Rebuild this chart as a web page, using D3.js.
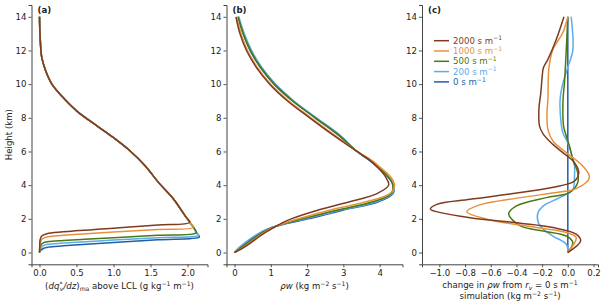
<!DOCTYPE html>
<html>
<head>
<meta charset="utf-8">
<script src="https://cdn.jsdelivr.net/npm/d3@7"></script>
<style>
  body { margin: 0; background: #fff; }
  svg { font-family: "DejaVu Sans", sans-serif; }
</style>
</head>
<body>
<svg id="chart" width="606" height="306"></svg>
<script>
// ---- data ----
var resistances = [0, 200, 500, 1000, 2000];          // s m-1, drawing order
var legendOrder = [2000, 1000, 500, 200, 0];

// (a) moist-adiabatic dq*/dz above LCL, shared profile [x, height]
var moistProfile = [[2.16,0.92],[2.15,1.02],[2.12,1.18],[2.08,1.5],[2.03,1.8],[1.98,2.1],
	[1.81,3.18],[1.61,4.15],[1.43,5.14],[1.225,6.03],[1.0,6.82],[0.78,7.51],[0.505,8.4],
	[0.30,9.29],[0.17,9.98],[0.077,10.87],[0.03,11.6],[0.012,12.5],[0.004,13.3],[0.0,14.0]];
var lclHeight = { 0: 0.92, 200: 1.02, 500: 1.18, 1000: 1.5, 2000: 1.8 };
var belowLcl = {
	2000: [[0,0],[0.003,0.4],[0.008,0.75],[0.03,0.98],[0.1,1.12],[0.32,1.23],[1.0,1.44],[1.6,1.63]],
	1000: [[0,0],[0.004,0.3],[0.012,0.6],[0.04,0.82],[0.12,0.94],[0.32,1.02],[1.0,1.22],[1.6,1.37]],
	500:  [[0,0],[0.006,0.2],[0.015,0.4],[0.05,0.57],[0.12,0.65],[0.32,0.72],[1.0,0.88],[1.6,1.02]],
	200:  [[0,0],[0.008,0.18],[0.04,0.38],[0.12,0.49],[0.32,0.56],[1.0,0.74],[1.6,0.88]],
	0:    [[0,0],[0.012,0.1],[0.05,0.24],[0.12,0.32],[0.32,0.4],[1.0,0.6],[1.6,0.76]]
};

// (b) rho*w on a common height grid
var heightsB = [0,0.25,0.5,1,1.25,1.5,1.75,2,2.5,3,3.5,4,4.5,5,5.5,6,7,8,9,10,11,12,13,14];
var rhoW = {
	2000: [0,0.22,0.40,0.72,0.90,1.10,1.30,1.56,2.27,3.15,3.93,4.25,4.16,3.97,3.72,3.38,2.70,2.07,1.46,0.97,0.60,0.33,0.15,0.04],
	1000: [0,0.20,0.37,0.69,0.87,1.08,1.38,1.76,2.59,3.60,4.28,4.41,4.30,4.05,3.76,3.38,2.74,2.11,1.50,1.00,0.63,0.36,0.18,0.06],
	500:  [0,0.16,0.32,0.64,0.82,1.06,1.42,1.86,2.78,3.79,4.32,4.36,4.24,4.00,3.72,3.38,2.86,2.23,1.61,1.10,0.72,0.44,0.24,0.10],
	200:  [0,0.10,0.24,0.56,0.76,1.03,1.45,1.95,2.87,3.88,4.35,4.39,4.24,4.00,3.72,3.38,2.89,2.26,1.64,1.13,0.75,0.47,0.27,0.12],
	0:    [0,0.13,0.28,0.60,0.79,1.07,1.50,2.03,2.96,3.95,4.37,4.38,4.22,3.98,3.70,3.37,2.85,2.22,1.60,1.09,0.71,0.43,0.24,0.10]
};

// (c) change in rho*w relative to r_v = 0, [x, height]
var deltaRhoW = {
	2000: [[0,0.0],[0.10,0.69],[0.065,1.09],[-0.116,1.48],[-0.37,1.74],[-0.76,2.07],[-0.99,2.37],[-1.07,2.57],
		[-1.02,2.86],[-0.76,3.16],[-0.37,3.56],[-0.064,3.95],[0.052,4.25],[0.085,4.74],[0.052,5.34],
		[-0.039,5.93],[-0.116,6.42],[-0.19,7.02],[-0.22,7.51],[-0.225,8.5],[-0.21,9.5],[-0.2,10.4],
		[-0.19,10.97],[-0.155,11.47],[-0.09,12.65],[-0.03,14.0]],
	1000: [[0,0.0],[0.065,0.89],[-0.012,1.19],[-0.245,1.48],[-0.63,1.98],[-0.786,2.42],[-0.71,2.77],
		[-0.37,3.26],[-0.064,3.59],[0.065,3.79],[0.168,4.45],[0.116,5.14],[-0.012,5.93],[-0.116,6.62],
		[-0.155,7.31],[-0.162,8.3],[-0.155,9.09],[-0.147,10.97],[-0.116,12.06],[-0.039,13.05],[0.0,14.0]],
	500:  [[0,0.0],[0.039,0.59],[-0.012,0.98],[-0.19,1.28],[-0.37,1.58],[-0.46,2.3],[-0.40,2.77],
		[-0.167,3.26],[0.013,3.56],[0.077,4.15],[0.077,4.74],[0.039,5.53],[0.013,6.32],[-0.012,6.92],
		[-0.033,7.51],[-0.037,9.09],[-0.026,10.08],[-0.012,12.06],[0.0,14.0]],
	200:  [[0,0.0],[-0.012,0.49],[-0.116,0.98],[-0.19,1.38],[-0.23,1.78],[-0.232,2.37],[-0.19,2.77],
		[-0.064,3.26],[0.039,3.75],[0.052,4.54],[0.052,5.14],[0.026,5.93],[0.0,6.52],[-0.039,7.12],
		[-0.055,7.91],[-0.06,9.09],[-0.04,10.0],[0.0,11.0],[0.039,12.0],[0.026,14.0]],
	0:    [[0,0.0],[0,14.0]]
};

var colour = { 2000: "#7d3b22", 1000: "#e8913d", 500: "#4b7912", 200: "#5cacea", 0: "#1f5ea8" };

var yTicks = [0, 2, 4, 6, 8, 10, 12, 14];
var ticksA = [0, 0.5, 1.0, 1.5, 2.0];
var ticksB = [0, 1, 2, 3, 4];
var ticksC = [-1.0, -0.8, -0.6, -0.4, -0.2, 0.0, 0.2];

// ---- layout ----
var svg = d3.select("#chart");
var plotTop = 5, plotBottom = 264.3, panelW = 176;
var fs = 8.6;

var y = d3.scaleLinear().domain([-0.7, 14.7]).range([plotBottom, plotTop]);

var panels = [
	{ key: "a", left: 31.5, domain: [-0.108, 2.27], ticks: ticksA, fmt: d3.format(".1f") },
	{ key: "b", left: 226.5, domain: [-0.22, 4.63], ticks: ticksB, fmt: d3.format("d") },
	{ key: "c", left: 422, domain: [-1.135, 0.235], ticks: ticksC, fmt: function (d) { return d3.format(".1f")(d).replace("-", "\u2212"); } }
];

function richText(sel, parts) {
	var cur = 0;
	parts.forEach(function (p) {
		var target = p.sup ? -3.4 : (p.sub ? 2.2 : 0);
		var ts = sel.append("tspan").attr("dy", target - cur).text(p.t);
		cur = target;
		if (p.sup || p.sub) ts.attr("font-size", 6.1);
		if (p.i) ts.attr("font-style", "italic");
		if (p.dx) ts.attr("dx", p.dx);
	});
}

var line = d3.line().curve(d3.curveCatmullRom.alpha(0.5));

panels.forEach(function (p) {
	var x = d3.scaleLinear().domain(p.domain).range([p.left, p.left + panelW]);
	p.x = x;
	var g = svg.append("g");

	var yAxis = g.append("g")
		.attr("transform", "translate(" + p.left + ",0)")
		.call(d3.axisLeft(y).tickValues(yTicks).tickSizeOuter(0).tickSize(3).tickPadding(2));
	var xAxis = g.append("g")
		.attr("transform", "translate(0," + plotBottom + ")")
		.call(d3.axisBottom(x).tickValues(p.ticks).tickFormat(p.fmt).tickSizeOuter(0).tickSize(3).tickPadding(2.5));

	[yAxis, xAxis].forEach(function (a) {
		a.select(".domain").attr("stroke", "#444").attr("stroke-width", 1);
		a.selectAll(".tick line").attr("stroke", "#444").attr("stroke-width", 0.9);
		a.selectAll(".tick text").attr("font-size", fs).attr("fill", "#222")
			.attr("font-family", "DejaVu Sans");
	});

	g.append("text")
		.attr("x", p.left + 6)
		.attr("y", 13)
		.attr("font-size", fs)
		.attr("font-weight", "bold")
		.attr("fill", "#222")
		.text("(" + p.key + ")");
});

// ---- panel (a) ----
var pa = panels[0];
resistances.forEach(function (r) {
	var pts = belowLcl[r].concat(moistProfile.filter(function (d) { return d[1] >= lclHeight[r]; }));
	svg.append("path")
		.attr("d", line.x(function (d) { return pa.x(d[0]); }).y(function (d) { return y(d[1]); })(pts))
		.attr("fill", "none")
		.attr("stroke", colour[r])
		.attr("stroke-width", 1.5);
});

// ---- panel (b) ----
var pb = panels[1];
resistances.forEach(function (r) {
	var pts = heightsB.map(function (h, i) { return [rhoW[r][i], h]; });
	svg.append("path")
		.attr("d", line.x(function (d) { return pb.x(d[0]); }).y(function (d) { return y(d[1]); })(pts))
		.attr("fill", "none")
		.attr("stroke", colour[r])
		.attr("stroke-width", 1.5);
});

// ---- panel (c) ----
var pc = panels[2];
resistances.forEach(function (r) {
	svg.append("path")
		.attr("d", line.x(function (d) { return pc.x(d[0]); }).y(function (d) { return y(d[1]); })(deltaRhoW[r]))
		.attr("fill", "none")
		.attr("stroke", colour[r])
		.attr("stroke-width", 1.5);
});

// legend
var legend = svg.append("g").attr("transform", "translate(434,40.7)");
legendOrder.forEach(function (r, i) {
	var row = legend.append("g").attr("transform", "translate(0," + (i * 10.3) + ")");
	row.append("line").attr("x1", 0).attr("x2", 15).attr("y1", 0).attr("y2", 0)
		.attr("stroke", colour[r]).attr("stroke-width", 1.5);
	var t = row.append("text").attr("x", 19).attr("y", 3).attr("font-size", fs).attr("fill", colour[r]);
	richText(t, [{ t: r + " s m" }, { t: "\u22121", sup: true }]);
});

// ---- axis labels ----
svg.append("text")
	.attr("transform", "translate(11.5," + ((plotTop + plotBottom) / 2) + ") rotate(-90)")
	.attr("text-anchor", "middle")
	.attr("font-size", fs)
	.attr("fill", "#222")
	.text("Height (km)");

var la = svg.append("text")
	.attr("x", pa.left + panelW / 2).attr("y", 289)
	.attr("text-anchor", "middle").attr("font-size", fs).attr("fill", "#222");
richText(la, [{ t: "(" }, { t: "dq", i: true }, { t: "*", sup: true }, { t: "v", sub: true, i: true, dx: -2.6 },
	{ t: "/dz", i: true }, { t: ")" }, { t: "ma", sub: true }, { t: " above LCL (g kg" },
	{ t: "\u22121", sup: true }, { t: " m" }, { t: "\u22121", sup: true }, { t: ")" }]);

var lb = svg.append("text")
	.attr("x", pb.left + panelW / 2).attr("y", 289)
	.attr("text-anchor", "middle").attr("font-size", fs).attr("fill", "#222");
richText(lb, [{ t: "\u03c1w", i: true }, { t: " (kg m" }, { t: "\u22122", sup: true }, { t: " s" },
	{ t: "\u22121", sup: true }, { t: ")" }]);

var lc1 = svg.append("text")
	.attr("x", pc.left + panelW / 2).attr("y", 288)
	.attr("text-anchor", "middle").attr("font-size", fs).attr("fill", "#222");
richText(lc1, [{ t: "change in " }, { t: "\u03c1w", i: true }, { t: " from " }, { t: "r", i: true },
	{ t: "v", sub: true, i: true }, { t: " = 0 s m" }, { t: "\u22121", sup: true }]);

var lc2 = svg.append("text")
	.attr("x", pc.left + panelW / 2).attr("y", 299)
	.attr("text-anchor", "middle").attr("font-size", fs).attr("fill", "#222");
richText(lc2, [{ t: "simulation (kg m" }, { t: "\u22122", sup: true }, { t: " s" },
	{ t: "\u22121", sup: true }, { t: ")" }]);
</script>
</body>
</html>
